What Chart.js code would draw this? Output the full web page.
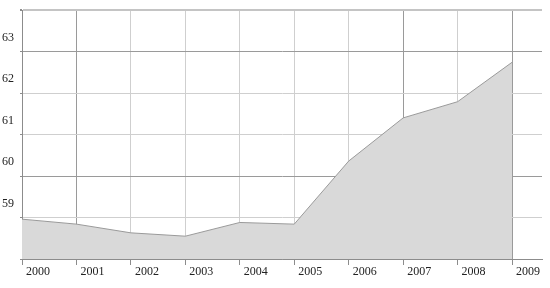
<!DOCTYPE html>
<html>
<head>
<meta charset="utf-8">
<script src="https://cdn.jsdelivr.net/npm/chart.js@4"></script>
<style>
  html, body { margin: 0; padding: 0; background: #fff; }
  #wrap { width: 550px; height: 288px; }
</style>
</head>
<body>
<div id="wrap"><canvas id="chart"></canvas></div>
<script>
const years = [2000, 2001, 2002, 2003, 2004, 2005, 2006, 2007, 2008, 2009];
const values = [58.96, 58.84, 58.63, 58.55, 58.88, 58.84, 60.36, 61.40, 61.79, 62.74];
const yTicks = [59, 60, 61, 62, 63];

const darkX = [2000, 2001, 2007, 2009];
const darkY = [58, 60, 63];

const points = years.map((y, i) => ({ x: y, y: values[i] }));

const ctx = document.getElementById('chart').getContext('2d');
new Chart(ctx, {
  type: 'line',
  data: {
    datasets: [{
      data: points,
      borderColor: '#9a9a9a',
      borderWidth: 1,
      backgroundColor: '#d9d9d9',
      fill: 'start',
      pointRadius: 0,
      tension: 0
    }]
  },
  options: {
    responsive: true,
    maintainAspectRatio: false,
    animation: false,
    layout: { padding: { top: 10, right: 8, left: 0, bottom: 0 } },
    plugins: { legend: { display: false }, tooltip: { enabled: false } },
    scales: {
      x: {
        type: 'linear',
        min: 2000,
        max: 2009.55,
        border: { color: '#8c8c8c' },
        grid: {
          color: c => darkX.includes(c.tick.value) ? '#9a9a9a' : '#cfcfcf',
          tickColor: '#8c8c8c',
          tickLength: 6
        },
        ticks: {
          stepSize: 1,
          includeBounds: false,
          autoSkip: false,
          maxRotation: 0,
          labelOffset: 16,
          padding: 0,
          color: '#222',
          font: { family: 'Liberation Serif', size: 12 },
          callback: v => String(v)
        },
        afterFit: s => { s.height = 29; s.paddingLeft = 0; s.paddingRight = 0; }
      },
      y: {
        min: 58,
        max: 64,
        border: { color: '#8c8c8c' },
        grid: {
          color: c => c.tick.value === 64 ? '#c4c4c4' : (darkY.includes(c.tick.value) ? '#9a9a9a' : '#cfcfcf'),
          lineWidth: c => c.tick.value === 64 ? 2 : 1,
          tickColor: '#8c8c8c',
          tickLength: 2
        },
        ticks: {
          stepSize: 1,
          labelOffset: -14,
          padding: 6,
          color: '#222',
          font: { family: 'Liberation Serif', size: 12 },
          callback: v => yTicks.includes(v) ? String(v) : ''
        },
        afterFit: s => { s.width = 22; s.paddingTop = 0; s.paddingBottom = 0; }
      }
    }
  }
});
</script>
</body>
</html>
